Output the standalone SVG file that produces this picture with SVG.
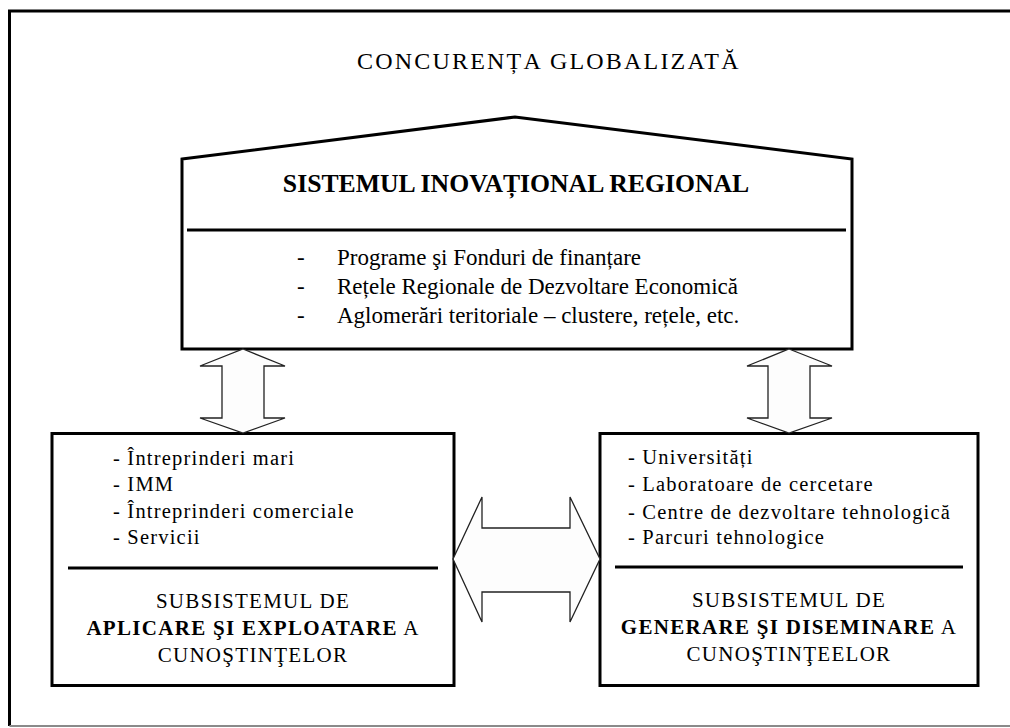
<svg xmlns="http://www.w3.org/2000/svg" width="1010" height="728" viewBox="0 0 1010 728">
<style>
.box{fill:#ffffff;stroke:#000;stroke-width:3}
.div{stroke:#000;stroke-width:3}
.arr{fill:#fdfdfd;stroke:#222;stroke-width:1.3;stroke-linejoin:miter}
.list{font-size:20.5px;letter-spacing:1.2px}
.top{font-size:23px}
.sub{font-size:21px;letter-spacing:1.3px;text-anchor:middle}
.b{font-weight:bold}
</style>
<rect x="0" y="0" width="1010" height="728" fill="#ffffff"/>
<g id="frame" fill="none">
<path d="M9.5 726 V11 H1010" stroke="#000" stroke-width="3"/>
<path d="M9.5 726 H1010" stroke="#8a8a8a" stroke-width="2"/>
</g>
<g font-family="Liberation Serif, Tinos, DejaVu Serif, serif" fill="#000">
<g id="title">
<text x="357" y="69" font-size="24" letter-spacing="2.2">CONCURENȚA GLOBALIZATĂ</text>
</g>
<g id="sistem">
<polygon class="box" points="182,159 515,117 852,159 852,349 182,349"/>
<line class="div" x1="187" y1="230" x2="846" y2="230"/>
<text x="516" y="192" font-size="25.7" font-weight="bold" text-anchor="middle">SISTEMUL INOVAȚIONAL REGIONAL</text>
<text class="top" x="297" y="265">-</text>
<text class="top" x="337" y="265">Programe şi Fonduri de finanțare</text>
<text class="top" x="297" y="294">-</text>
<text class="top" x="337" y="294">Rețele Regionale de Dezvoltare Economică</text>
<text class="top" x="297" y="323">-</text>
<text class="top" x="337" y="323">Aglomerări teritoriale – clustere, rețele, etc.</text>
</g>
<g id="aplicare">
<rect class="box" x="52" y="433.5" width="402" height="252"/>
<line class="div" x1="68" y1="568" x2="438" y2="568"/>
<text class="list" x="113" y="465">- Întreprinderi mari</text>
<text class="list" x="113" y="491">- IMM</text>
<text class="list" x="113" y="518">- Întreprinderi comerciale</text>
<text class="list" x="113" y="544">- Servicii</text>
<text class="sub" x="253" y="608">SUBSISTEMUL DE</text>
<text class="sub" x="253" y="635"><tspan class="b">APLICARE ŞI EXPLOATARE</tspan> A</text>
<text class="sub" x="253" y="662">CUNOŞTINŢELOR</text>
</g>
<g id="generare">
<rect class="box" x="600" y="433.5" width="378" height="252"/>
<line class="div" x1="615" y1="567" x2="963" y2="567"/>
<text class="list" x="628" y="464">- Universități</text>
<text class="list" x="628" y="491">- Laboratoare de cercetare</text>
<text class="list" x="628" y="519">- Centre de dezvoltare tehnologică</text>
<text class="list" x="628" y="544">- Parcuri tehnologice</text>
<text class="sub" x="789" y="607">SUBSISTEMUL DE</text>
<text class="sub" x="789" y="634"><tspan class="b">GENERARE ŞI DISEMINARE</tspan> A</text>
<text class="sub" x="789" y="661">CUNOŞTINŢEELOR</text>
</g>
</g>
<g id="connectors">
<polygon class="arr" points="243,349 285,366 264,366 264,418 285,418 243,433 200,418 222,418 222,366 200,366"/>
<polygon class="arr" points="789,349 832,366 810,366 810,418 832,418 789,433 747,418 768,418 768,366 747,366"/>
<polygon class="arr" points="453,559 482,497 482,528 570,528 570,497 600,559 570,622 570,592 482,592 482,622"/>
</g>
</svg>
